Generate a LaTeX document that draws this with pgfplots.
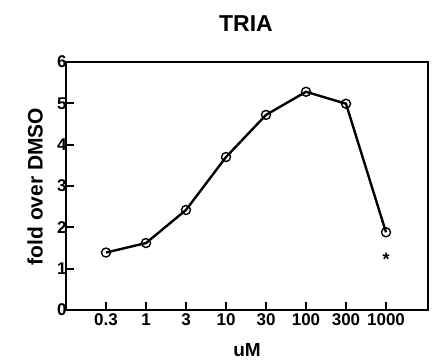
\documentclass[border=0pt]{standalone}
\usepackage{fontspec}
\setmainfont{Liberation Sans}
\usepackage{pgfplots}
\pgfplotsset{compat=1.18}
\begin{document}
\begin{tikzpicture}[font=\bfseries]
\useasboundingbox (0,0) rectangle (439pt,360pt);
\begin{axis}[
  at={(66pt,50pt)}, anchor=south west,
  scale only axis, width=362pt, height=248pt,
  xmin=-1, xmax=8.05, ymin=0, ymax=6,
  axis line style={line width=2.8pt},
  xtick={0,1,2,3,4,5,6,7},
  xticklabels={0.3,1,3,10,30,100,300,1000},
  ytick={0,1,2,3,4,5,6},
  tick align=inside,
  xtick pos=bottom, ytick pos=left,
  major tick length=8pt,
  tick style={line width=2pt, black},
  tick label style={font=\fontsize{17}{19}\selectfont\bfseries},
  /pgf/number format/assume math mode=true,
  yticklabel style={xshift=4pt},
  xticklabel style={yshift=0pt},
  clip=false,
]
\addplot[black, line width=2.4pt, mark=o, mark size=4.5pt, mark options={fill=white, line width=1.4pt}]
coordinates {(0,1.39) (1,1.62) (2,2.42) (3,3.70) (4,4.72) (5,5.28) (6,4.99) (7,1.88)};
\node[font=\fontsize{18}{20}\selectfont\bfseries] at (axis cs:7,1.22) {*};
\end{axis}
\node[font=\fontsize{23}{26}\selectfont\bfseries] at (246pt,336.5pt) {TRIA};
\node[font=\fontsize{21}{24}\selectfont\bfseries, rotate=90] at (35pt,173.5pt) {fold over DMSO};
\node[font=\fontsize{19}{22}\selectfont\bfseries, anchor=base, inner sep=0pt] at (247pt,4pt) {uM};
\end{tikzpicture}
\end{document}
